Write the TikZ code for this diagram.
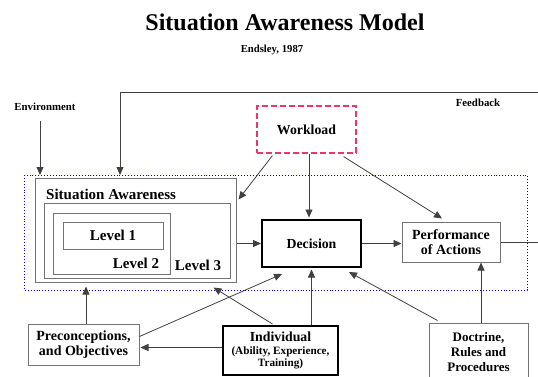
\documentclass[tikz,border=0pt]{standalone}
\usepackage{fontspec}
\setmainfont{Liberation Serif}
\usetikzlibrary{arrows.meta,calc}

\tikzset{
  every node/.style={font=\bfseries, inner sep=0pt, align=center},
  greybox/.style={draw=black!55, line width=1pt, rectangle},
  heavybox/.style={draw=black, line width=2pt, rectangle},
  conn/.style={draw=black!75, line width=0.8pt, -{Triangle[length=8pt,width=7pt]}},
  plain/.style={draw=black!75, line width=0.8pt},
  fs/.style={font=\fontsize{#1}{#1}\selectfont\bfseries}
}

\begin{document}
\begin{tikzpicture}[x=1pt, y=-1pt]
\useasboundingbox (0,0) rectangle (538,377);
\clip (0,0) rectangle (538,377);

% headings
\node[fs=24] (title) at (285,22) {Situation Awareness Model};
\node[fs=10.7] (author) at (272,50) {Endsley, 1987};
\node[fs=10.8] (envt) at (45,107) {Environment};
\node[fs=10.8] (fbt) at (478,103) {Feedback};

% system boundary
\draw[draw=blue!85!black, line width=0.9pt, dotted] (24,175) rectangle (527,290);
\coordinate (bndtop) at (40,175);

% situation awareness nest
\node[greybox, minimum width=201, minimum height=104] (sa) at (135.5,230) {};
\node[greybox, minimum width=186, minimum height=75] (l3) at (137,240.5) {};
\node[greybox, minimum width=117, minimum height=61] (l2) at (111.5,243.5) {};
\node[greybox, minimum width=100, minimum height=27, fs=15] (l1) at (113,235.5) {Level 1};
\node[fs=15, anchor=west] (satxt) at (46,194) {Situation Awareness};
\node[fs=15] (l2t) at (136,263) {Level 2};
\node[fs=15] (l3t) at (198,265) {Level 3};

% main boxes
\node[heavybox, minimum width=99, minimum height=47, fs=13.8] (dec) at (311.5,243.5) {Decision};
\node[greybox, minimum width=98, minimum height=40, fs=14] (perf) at (451,242) {Performance\\[1pt]of Actions};
\node[draw={rgb,255:red,232;green,56;blue,106}, line width=1.2pt, dash pattern=on 6pt off 3pt,
      minimum width=99, minimum height=47, fs=13.8] (wl) at (306.5,129.5) {Workload};
\node[greybox, minimum width=111, minimum height=41, fs=14] (pre) at (83.5,344.5) {Preconceptions,\\[1pt]and Objectives};
\node[heavybox, minimum width=115, minimum height=49] (ind) at (280.5,350.5)
  {{\fontsize{13.8}{15}\selectfont\bfseries Individual}\\[1pt]
   {\fontsize{11.2}{13}\selectfont\bfseries (Ability, Experience,}\\
   {\fontsize{11.2}{13}\selectfont\bfseries Training)}};
\node[greybox, minimum width=99, minimum height=58, fs=13] (doc) at (478.5,352) {Doctrine,\\[2pt]Rules and\\[2pt]Procedures};

% environment and feedback inputs
\draw[conn] ($(envt.south)+(-5,10)$) -- (bndtop);
\draw[conn] (perf.east) -- (541,242) -- (541,92) -- (120,92) -- (120,175);

% flow through the model
\draw[conn] (sa.east |- dec.west) -- (dec.west);
\draw[conn] (dec.east) -- (dec.east -| perf.west);

% workload influences
\draw[conn] ($(wl.south west)+(16,2)$) -- ($(sa.north east)+(2,22)$);
\draw[conn] ([xshift=2.5pt]wl.south) -- ($(dec.north)+(-2.5,-1.5)$);
\draw[conn] ($(wl.south east)+(-13,3)$) -- ($(perf.north)+(-9,-3)$);

% preconceptions
\draw[conn] ($(pre.north)+(2.5,0)$) -- ++(0,-37);
\draw[conn] ($(pre.east)+(0,-8)$) -- ($(dec.south west)+(21,6)$);

% individual factors
\draw[conn] ($(ind.west)+(0,-3)$) -- ($(pre.east)+(1,3)$);
\draw[conn] (dec.south |- ind.north) -- ($(dec.south)+(0,1.5)$);
\draw[conn] ($(ind.north)+(-8,-1)$) -- ($(sa.south east)+(-23,5)$);

% doctrine
\draw[conn] ($(doc.north)+(2.5,0)$) -- ($(perf.south)+(30,0)$);
\draw[conn] ($(doc.north west)+(9,-2)$) -- ($(dec.south east)+(-13,4)$);
\end{tikzpicture}
\end{document}
